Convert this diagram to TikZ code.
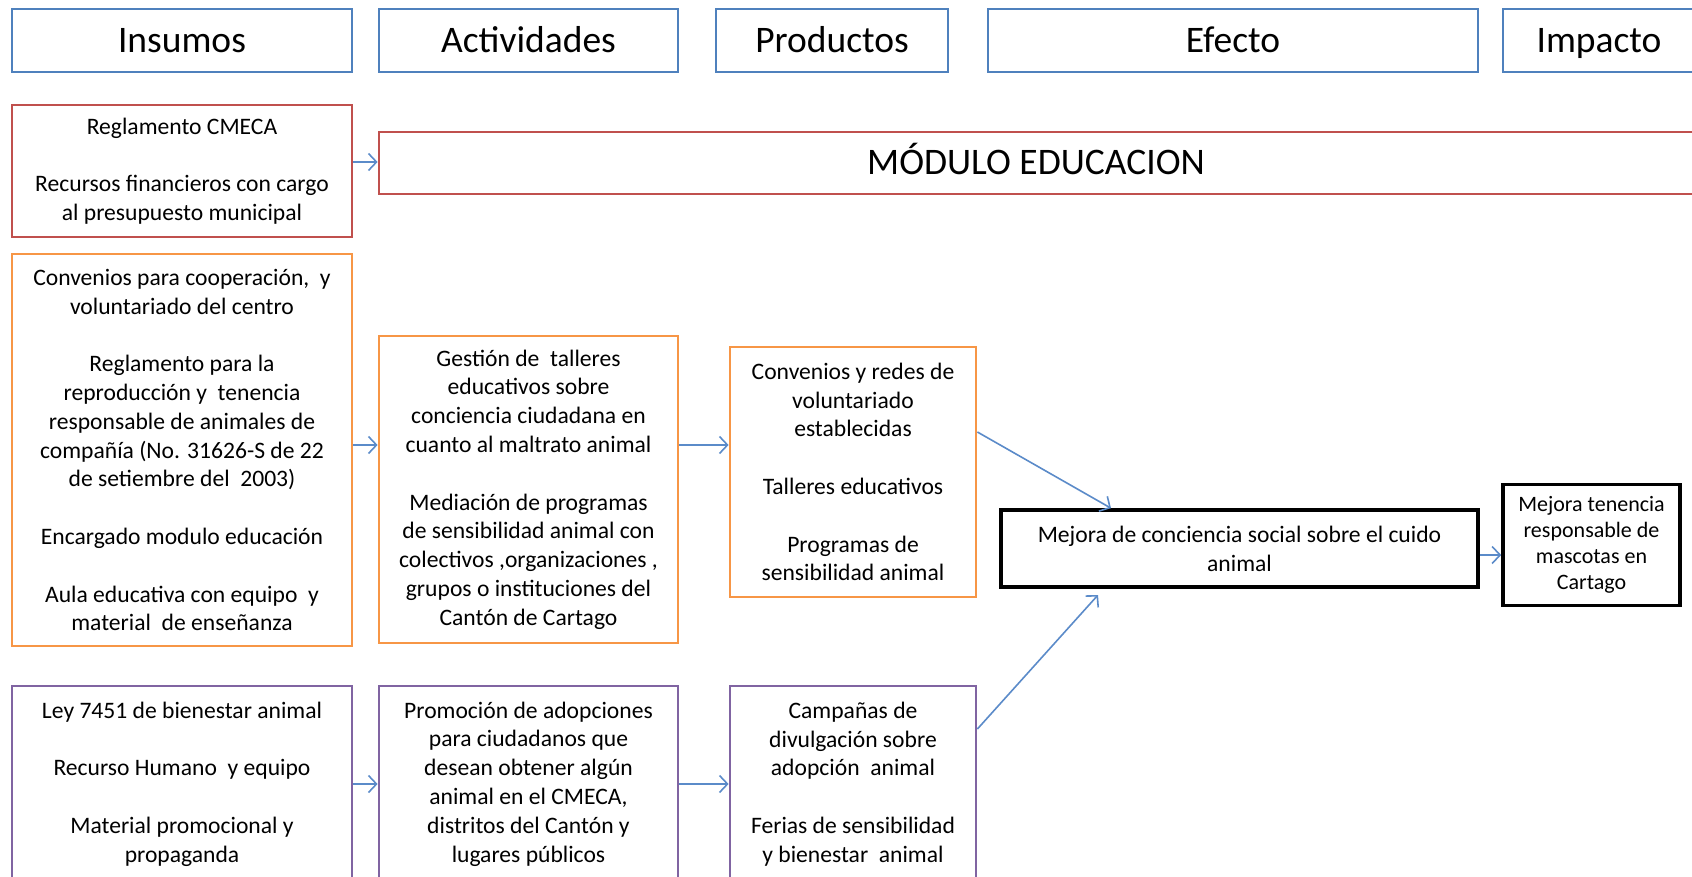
\documentclass[tikz,border=0pt]{standalone}
\usepackage{fontspec}
\setmainfont{Carlito}
\usetikzlibrary{arrows.meta}
\definecolor{hblue}{HTML}{4F81BD}
\definecolor{cred}{HTML}{C0504D}
\definecolor{corange}{HTML}{F79646}
\definecolor{cpurple}{HTML}{8064A2}
\definecolor{carrow}{HTML}{5B8BC9}
\tikzset{
  box/.style={draw, line width=1.4pt, inner sep=0pt, align=center, anchor=center,
    font=\fontsize{11.8}{14.4}\selectfont},
  bigtext/.style={font=\fontsize{18.75}{22}\selectfont, text height=12pt, text depth=0pt},
  hdr/.style={box, draw=hblue, minimum height=31.5pt, bigtext},
  redbox/.style={box, draw=cred},
  orbox/.style={box, draw=corange},
  pubox/.style={box, draw=cpurple},
  blbox/.style={box, draw=black, line width=1.8pt},
  arr/.style={draw=carrow, line width=0.8pt, -{Straight Barb[length=4pt,width=8.5pt]}}
}
\begin{document}
\begin{tikzpicture}[x=0.5pt,y=-0.5pt]
\useasboundingbox (0,0) rectangle (1692,877);
\clip (0,0) rectangle (1692,877);
\fill[white] (0,0) rectangle (1692,877);
% headers
\node[hdr, minimum width=170pt] (h1) at (182,40.5) {Insumos};
\node[hdr, minimum width=149.5pt] (h2) at (528.5,40.5) {Actividades};
\node[hdr, minimum width=116pt] (h3) at (832,40.5) {Productos};
\node[hdr, minimum width=245pt] (h4) at (1233,40.5) {Efecto};
\node[hdr, minimum width=96pt] (h5) at (1599,40.5) {Impacto};
% red row
\node[redbox, minimum width=170pt, minimum height=66pt] (r1) at (182,171)
  {Reglamento CMECA\\[14.4pt]Recursos financieros con cargo\\al presupuesto municipal};
\node[redbox, minimum width=657pt, minimum height=31pt, bigtext] (mod) at (1036,163) {MÓDULO EDUCACION};
% orange row
\node[orbox, minimum width=170pt, minimum height=196pt] (o1) at (182,450)
  {Convenios para cooperación,\ \ y\\voluntariado del centro\\[14.4pt]Reglamento para la\\reproducción y\ \ tenencia\\responsable de animales de\\compañía (No. 31626-S de 22\\de setiembre del\ \ 2003)\\[14.4pt]Encargado modulo educación\\[14.4pt]Aula educativa con equipo\ \ y\\material\ \ de enseñanza};
\node[orbox, minimum width=149.5pt, minimum height=153.5pt] (o2) at (528.5,489.5)
  {Gestión de\ \ talleres\\educativos sobre\\conciencia ciudadana en\\cuanto al maltrato animal\\[14.4pt]Mediación de programas\\de sensibilidad animal con\\colectivos ,organizaciones ,\\grupos o instituciones del\\Cantón de Cartago};
\node[orbox, minimum width=123pt, minimum height=125pt] (o3) at (853,472)
  {Convenios y redes de\\voluntariado\\establecidas\\[14.4pt]Talleres educativos\\[14.4pt]Programas de\\sensibilidad animal};
% effect & impact
\node[blbox, minimum width=238.5pt, minimum height=38.5pt] (ef) at (1239.5,548.5)
  {Mejora de conciencia social sobre el cuido\\animal};
\node[blbox, minimum width=88.5pt, minimum height=60.5pt, font=\fontsize{11}{13}\selectfont] (im) at (1591.5,545)
  {Mejora tenencia\\responsable de\\mascotas en\\Cartago};
% purple row
\node[pubox, minimum width=170pt, minimum height=98pt] (p1) at (182,784)
  {Ley 7451 de bienestar animal\\[14.4pt]Recurso Humano\ \ y equipo\\[14.4pt]Material promocional y\\propaganda};
\node[pubox, minimum width=149.5pt, minimum height=98pt] (p2) at (528.5,784)
  {Promoción de adopciones\\para ciudadanos que\\desean obtener algún\\animal en el CMECA,\\distritos del Cantón y\\lugares públicos};
\node[pubox, minimum width=123pt, minimum height=98pt] (p3) at (853,784)
  {Campañas de\\divulgación sobre\\adopción\ \ animal\\[14.4pt]Ferias de sensibilidad\\y bienestar\ \ animal};
% arrows
\draw[arr] (r1.east |- 0,162) -- (mod.west |- 0,162);
\draw[arr] (o1.east |- 0,445) -- (o2.west |- 0,445);
\draw[arr] (o2.east |- 0,445) -- (o3.west |- 0,445);
\draw[arr] (o3.east |- 0,432) -- (ef.north -| 1111,0);
\coordinate (e2) at (1098,595);
\draw[arr] (p3.east |- 0,729) -- (e2);
\draw[arr] (ef.east |- 0,555) -- (im.west |- 0,555);
\draw[arr] (p1.east |- 0,784) -- (p2.west |- 0,784);
\draw[arr] (p2.east |- 0,784) -- (p3.west |- 0,784);
\end{tikzpicture}
\end{document}
